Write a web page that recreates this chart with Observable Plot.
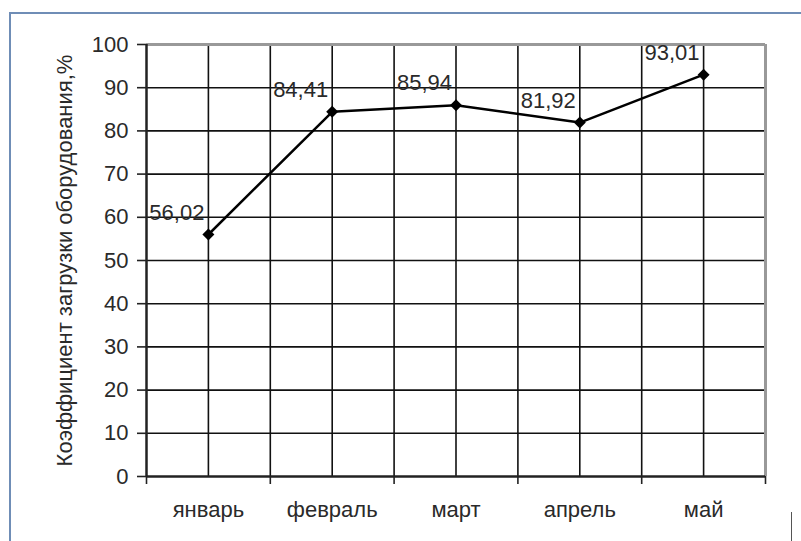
<!DOCTYPE html>
<html><head><meta charset="utf-8">
<script src="https://cdn.jsdelivr.net/npm/d3@7"></script>
<script src="https://cdn.jsdelivr.net/npm/@observablehq/plot@0.6"></script>
<style>
body{margin:0;background:#fff;}
#wrap{position:relative;width:801px;height:541px;overflow:hidden;background:#fff;}
#wrap svg{position:absolute;left:0;top:0;}
.bt{position:absolute;left:9px;top:12px;width:900px;height:700px;border-left:2px solid #6f8db6;border-top:2px solid #6f8db6;}
.mk{position:absolute;left:791px;top:512px;width:1px;height:29px;background:#555;}
</style></head><body>
<div id="wrap"><div class="bt"></div><div class="mk"></div></div>
<script>
const months = ["январь", "февраль", "март", "апрель", "май"];
const values = [56.02, 84.41, 85.94, 81.92, 93.01];
const valueLabels = ["56,02", "84,41", "85,94", "81,92", "93,01"];
const yTicks = [0, 10, 20, 30, 40, 50, 60, 70, 80, 90, 100];
const yTitle = "Коэффициент загрузки оборудования,%";

const data = months.map((m, i) => ({i, m, v: values[i], label: valueLabels[i]}));
const centers = months.map((_, i) => i);
const bounds = d3.range(months.length + 1).map(i => i - 0.5);
const innerBounds = bounds.slice(1, -1);
const innerY = yTicks.slice(1, -1);

const chart = Plot.plot({
  width: 801,
  height: 541,
  marginLeft: 146,
  marginRight: 36,
  marginTop: 44,
  marginBottom: 65,
  style: {fontFamily: "'Liberation Sans', Arial, sans-serif", fontSize: "22px", color: "#222", background: "transparent"},
  x: {type: "linear", domain: [-0.5, months.length - 0.5]},
  y: {domain: [0, 100]},
  marks: [
    Plot.ruleY(innerY, {stroke: "#111", strokeWidth: 1.6}),
    Plot.ruleX(centers, {stroke: "#111", strokeWidth: 1.6}),
    Plot.ruleX(innerBounds, {stroke: "#111", strokeWidth: 1.6}),
    Plot.ruleY([100], {stroke: "#999", strokeWidth: 3}),
    Plot.ruleX([bounds[bounds.length - 1]], {stroke: "#999", strokeWidth: 3}),
    Plot.ruleX([bounds[0]], {stroke: "#222", strokeWidth: 2.5}),
    Plot.ruleY([0], {stroke: "#222", strokeWidth: 2.5}),
    Plot.axisY({ticks: yTicks, tickSize: 9, tickPadding: 9, label: null, stroke: "#222", strokeWidth: 1.6, fill: "#2a2a2a"}),
    Plot.axisX({ticks: bounds, tickSize: 8, tickFormat: () => "", label: null, stroke: "#222", strokeWidth: 1.6}),
    Plot.axisX({ticks: centers, tickSize: 0, tickPadding: 25, tickFormat: i => months[i], label: null, fill: "#2a2a2a"}),
    Plot.text([yTitle], {frameAnchor: "left", textAnchor: "middle", lineAnchor: "middle", rotate: -90, dx: -82, fill: "#2a2a2a"}),
    Plot.line(data, {x: "i", y: "v", stroke: "#000", strokeWidth: 2.5}),
    Plot.dot(data, {x: "i", y: "v", symbol: "diamond2", r: 5.4, fill: "#000", stroke: "none"}),
    Plot.text(data, {x: "i", y: "v", text: "label", textAnchor: "end", dx: -4, dy: -22, fill: "#2a2a2a"})
  ]
});
document.getElementById("wrap").appendChild(chart);
</script>
</body></html>
